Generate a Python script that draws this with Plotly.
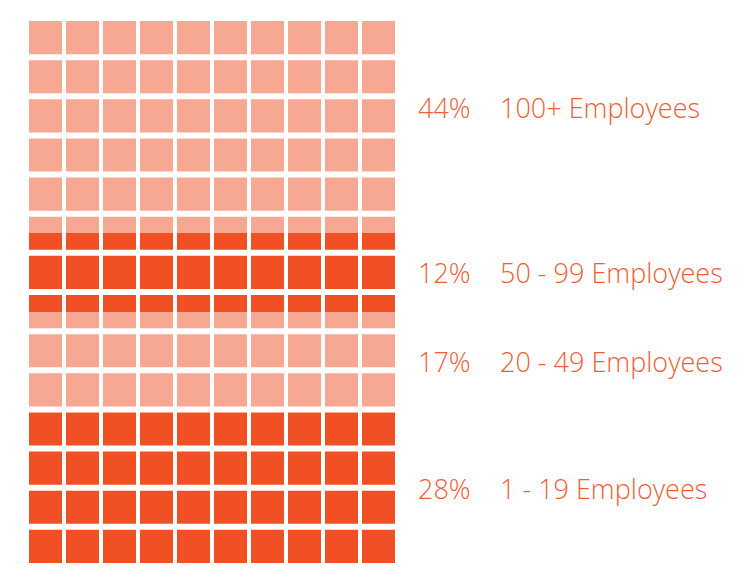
import plotly.graph_objects as go

# Data (bottom to top)
categories = ["1 - 19 Employees", "20 - 49 Employees", "50 - 99 Employees", "100+ Employees"]
percent_labels = [28, 17, 12, 44]
# share of the grid height each band occupies in the picture
drawn_share = [28.2, 18.1, 14.6, 39.1]
colors = ["#F15025", "#F7A893", "#F15025", "#F7A893"]

W, H = 744, 577
OFF = 8  # page body margin
left, right, top, bottom = 29 - OFF, 395 - OFF, 21 - OFF, 563 - OFF

fig = go.Figure()
for cat, val, col in zip(categories, drawn_share, colors):
    fig.add_trace(go.Bar(x=[0], y=[val], name=cat, marker=dict(color=col, line=dict(width=0)),
                         width=1, hoverinfo="skip"))

fig.update_layout(
    barmode="stack", width=W, height=H, showlegend=False,
    margin=dict(l=0, r=0, t=0, b=0, pad=0),
    plot_bgcolor="white", paper_bgcolor="white",
    xaxis=dict(domain=[left / W, right / W], range=[-0.5, 0.5], visible=False, fixedrange=True),
    yaxis=dict(domain=[(H - bottom) / H, (H - top) / H], range=[0, sum(drawn_share)],
               visible=False, fixedrange=True),
)

# white grid gaps over the bar (waffle look)
shapes = []
ncols, nrows = 10, 14
colp = (right - left + 4) / ncols
rowp = (bottom - top + 6) / nrows
for i in range(ncols - 1):
    x0 = left + colp * (i + 1) - 4
    shapes.append(dict(type="rect", xref="paper", yref="paper", layer="above",
                       x0=x0 / W, x1=(x0 + 4) / W, y0=(H - bottom - 1) / H, y1=(H - top + 1) / H,
                       fillcolor="white", line=dict(width=0)))
for k in range(nrows - 1):
    y0 = top + rowp * (k + 1) - 6
    shapes.append(dict(type="rect", xref="paper", yref="paper", layer="above",
                       x0=(left - 1) / W, x1=(right + 1) / W, y0=(H - y0 - 6) / H, y1=(H - y0) / H,
                       fillcolor="white", line=dict(width=0)))
fig.update_layout(shapes=shapes)

label_y = [488 - OFF, 362 - OFF, 272 - OFF, 108 - OFF]
font = dict(family="Open Sans", size=27, color="#F15E36", weight=300)
for cat, p, yy in zip(categories, percent_labels, label_y):
    fig.add_annotation(x=(416 - OFF) / W, y=(H - yy) / H, xref="paper", yref="paper", text=f"{p}%",
                       showarrow=False, xanchor="left", yanchor="middle", font=font)
    fig.add_annotation(x=(498 - OFF) / W, y=(H - yy) / H, xref="paper", yref="paper", text=cat,
                       showarrow=False, xanchor="left", yanchor="middle", font=font)

fig.write_html("out.html")
